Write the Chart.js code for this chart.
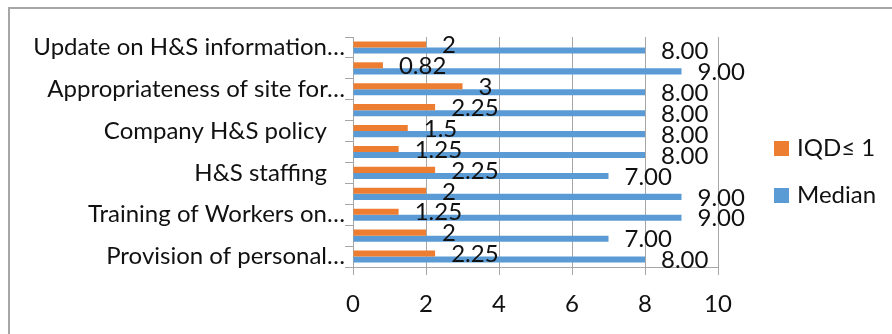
<!DOCTYPE html>
<html>
<head>
<meta charset="utf-8">
<script src="https://cdn.jsdelivr.net/npm/chart.js@4"></script>
<style>
    html, body { margin: 0; padding: 0; background: #fff; overflow: hidden; }
    #wrap { position: relative; width: 892px; height: 334px; }
    #frame { position: absolute; left: 8px; top: 7px; width: 1000px; height: 1000px; border: 2px solid #a6a6a6; box-sizing: border-box; }
    #chart { position: absolute; left: 0; top: 0; }
</style>
</head>
<body>
<div id="wrap">
    <div id="frame"></div>
    <canvas id="chart" width="892" height="334"></canvas>
</div>
<script>
// rows top to bottom, only every other row carries a visible label
const categories = [
    'Update on H&S information…', '',
    'Appropriateness of site for…', '',
    'Company H&S policy\u2002 ', '',
    'H&S staffing\u2002 ', '',
    'Training of Workers on…', '',
    'Provision of personal…'
];
const iqdValues = [2, 0.82, 3, 2.25, 1.5, 1.25, 2.25, 2, 1.25, 2, 2.25];
const medianValues = [8, 9, 8, 8, 8, 8, 7, 9, 9, 7, 8];
const xTicks = [0, 2, 4, 6, 8, 10];

const FONT = 'Lato, Carlito, sans-serif';
const FSIZE = 24;
const TEXT = '#111';
const LINE = '#a6a6a6';

// value labels just past the end of each bar
const valueLabels = {
    id: 'valueLabels',
    afterDatasetsDraw(chart) {
        const ctx = chart.ctx;
        ctx.save();
        ctx.font = FSIZE + 'px ' + FONT;
        ctx.fillStyle = TEXT;
        ctx.textAlign = 'left';
        ctx.textBaseline = 'middle';
        chart.data.datasets.forEach((ds, i) => {
            const meta = chart.getDatasetMeta(i);
            meta.data.forEach((bar, j) => {
                const v = ds.data[j];
                const txt = ds.label === 'Median' ? v.toFixed(2) : String(v);
                ctx.fillText(txt, bar.x + 16, bar.y + 1);
            });
        });
        ctx.restore();
    }
};

// legend column on the right
const sideLegend = {
    id: 'sideLegend',
    afterDraw(chart) {
        const ctx = chart.ctx;
        ctx.save();
        ctx.font = FSIZE + 'px ' + FONT;
        ctx.textBaseline = 'middle';
        chart.data.datasets.forEach((ds, i) => {
            const cy = 148 + i * 47;
            ctx.fillStyle = ds.backgroundColor;
            ctx.fillRect(774, cy - 7, 15, 15);
            ctx.fillStyle = TEXT;
            ctx.fillText(ds.label, 797, cy);
        });
        ctx.restore();
    }
};

new Chart(document.getElementById('chart'), {
    type: 'bar',
    data: {
        labels: categories,
        datasets: [
            { label: 'IQD≤ 1', data: iqdValues, backgroundColor: '#ED7D31' },
            { label: 'Median', data: medianValues, backgroundColor: '#5B9BD5' }
        ]
    },
    options: {
        indexAxis: 'y',
        responsive: false,
        animation: false,
        categoryPercentage: 0.58,
        barPercentage: 1,
        layout: { padding: { top: 37, right: 174, bottom: 0, left: 0 } },
        plugins: {
            legend: { display: false },
            tooltip: { enabled: false }
        },
        scales: {
            x: {
                min: 0,
                max: 10,
                afterBuildTicks(scale) { scale.ticks = xTicks.map(v => ({ value: v })); },
                afterFit(scale) { scale.height = 67; },
                ticks: { color: TEXT, font: { family: FONT, size: FSIZE }, padding: 15 },
                grid: { color: LINE, lineWidth: 1, tickLength: 8 },
                border: { display: true, color: LINE, width: 1 }
            },
            y: {
                afterFit(scale) { scale.width = 353; },
                ticks: { color: TEXT, font: { family: FONT, size: FSIZE }, padding: 0, autoSkip: false },
                grid: { drawOnChartArea: false, color: LINE, tickLength: 8 },
                border: { display: true, color: LINE, width: 1 }
            }
        }
    },
    plugins: [valueLabels, sideLegend]
});
</script>
</body>
</html>
